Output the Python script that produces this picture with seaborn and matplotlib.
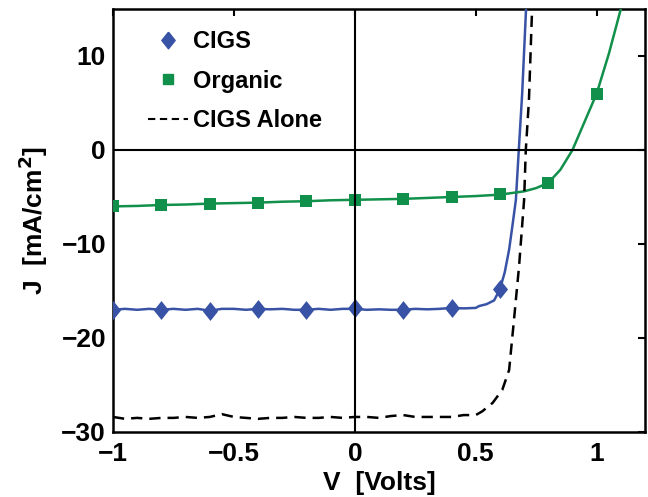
import matplotlib
matplotlib.use("Agg")
import matplotlib.pyplot as plt
from matplotlib.lines import Line2D
from matplotlib.markers import MarkerStyle
import seaborn as sns

# CIGS (tandem) curve
cigs_v = [-1.0, -0.95, -0.9, -0.85, -0.8, -0.75, -0.7, -0.65, -0.6, -0.55,
          -0.5, -0.45, -0.4, -0.35, -0.3, -0.25, -0.2, -0.15, -0.1, -0.05,
          0.0, 0.05, 0.1, 0.15, 0.2, 0.25, 0.3, 0.35, 0.4, 0.45,
          0.5, 0.514, 0.545, 0.576, 0.6, 0.62, 0.638, 0.652, 0.666, 0.678,
          0.692, 0.708]
cigs_j = [-17.0, -16.9, -17.0, -16.9, -17.0, -16.9, -17.0, -16.9, -17.1, -16.9,
          -16.9, -17.0, -16.9, -16.95, -16.9, -17.0, -17.0, -16.9, -17.0, -16.9,
          -16.9, -17.0, -16.95, -17.0, -17.0, -16.9, -16.95, -16.9, -16.8, -16.85,
          -16.8, -16.6, -16.4, -16.0, -14.8, -13.0, -10.6, -8.0, -5.3, 0.0,
          6.0, 15.0]
cigs_mv = [-1.0, -0.8, -0.6, -0.4, -0.2, 0.0, 0.2, 0.4, 0.6]
cigs_mj = [-17.0, -17.0, -17.1, -16.9, -17.0, -16.85, -17.0, -16.8, -14.8]

# Organic curve
org_v = [-1.0, -0.9, -0.8, -0.7, -0.6, -0.5, -0.4, -0.3, -0.2, -0.1,
         0.0, 0.1, 0.2, 0.3, 0.4, 0.5, 0.6, 0.7, 0.75, 0.8,
         0.85, 0.9, 0.95, 1.0, 1.05, 1.1]
org_j = [-6.0, -5.95, -5.85, -5.8, -5.7, -5.65, -5.6, -5.5, -5.45, -5.35,
         -5.3, -5.25, -5.2, -5.1, -5.0, -4.9, -4.75, -4.4, -4.05, -3.5,
         -2.1, 0.0, 3.0, 6.0, 10.2, 15.0]
org_mv = [-1.0, -0.8, -0.6, -0.4, -0.2, 0.0, 0.2, 0.4, 0.6, 0.8, 1.0]
org_mj = [-6.0, -5.85, -5.7, -5.6, -5.45, -5.3, -5.2, -5.0, -4.7, -3.5, 6.0]

# CIGS alone (dashed)
alone_v = [-1.0, -0.95, -0.9, -0.85, -0.8, -0.75, -0.7, -0.65, -0.6, -0.55,
           -0.5, -0.45, -0.4, -0.35, -0.3, -0.25, -0.2, -0.15, -0.1, -0.05,
           0.0, 0.05, 0.1, 0.15, 0.2, 0.25, 0.3, 0.35, 0.4, 0.45,
           0.5, 0.527, 0.57, 0.61, 0.638, 0.658, 0.679, 0.70, 0.707, 0.72,
           0.733]
alone_j = [-28.4, -28.6, -28.5, -28.6, -28.5, -28.5, -28.4, -28.5, -28.4, -28.1,
           -28.4, -28.5, -28.6, -28.5, -28.5, -28.4, -28.5, -28.5, -28.4, -28.5,
           -28.4, -28.4, -28.5, -28.3, -28.2, -28.4, -28.4, -28.4, -28.4, -28.2,
           -28.2, -27.8, -26.9, -25.5, -23.4, -18.1, -12.4, -5.3, 0.0, 5.3,
           15.0]

blue = "#3853a6"
green = "#10904a"
diamond = MarkerStyle([(0, 1), (0.8, 0), (0, -1), (-0.8, 0), (0, 1)])

sns.set_theme(style="white")
plt.rcParams["font.family"] = ["Liberation Sans", "DejaVu Sans"]
plt.rcParams["font.weight"] = "bold"
plt.rcParams["axes.labelweight"] = "bold"
plt.rcParams["text.color"] = "black"
plt.rcParams["axes.labelcolor"] = "black"

fig = plt.figure(figsize=(6.48, 4.97), dpi=100)
ax = fig.add_axes([0.1744, 0.1308, 0.821, 0.8511])

ax.axhline(0, color="black", lw=1.5, zorder=4)
ax.axvline(0, color="black", lw=1.5, zorder=4)

sns.lineplot(x=cigs_v, y=cigs_j, color=blue, lw=1.8, ax=ax, zorder=3)
sns.scatterplot(x=cigs_mv, y=cigs_mj, color=blue, marker=diamond, s=185,
                linewidth=0, ax=ax, zorder=3)
sns.lineplot(x=org_v, y=org_j, color=green, lw=1.8, ax=ax, zorder=3)
sns.scatterplot(x=org_mv, y=org_mj, color=green, marker="s", s=70,
                linewidth=0, ax=ax, zorder=3)
sns.lineplot(x=alone_v, y=alone_j, color="black", lw=1.8, ax=ax, zorder=3)
ax.lines[-1].set_dashes([4.5, 2.8])

ax.set_xlim(-1, 1.2)
ax.set_ylim(-30, 15)
ax.set_xticks([-1, -0.5, 0, 0.5, 1])
ax.set_xticklabels(["\u22121", "\u22120.5", "0", "0.5", "1"])
ax.set_yticks([-30, -20, -10, 0, 10])
ax.set_yticklabels(["\u221230", "\u221220", "\u221210", "0", "10"])
ax.tick_params(direction="in", length=5, width=1.5, top=True, right=True,
               labelsize=19, colors="black")
ax.tick_params(axis="x", pad=7)
ax.tick_params(axis="y", pad=5)
for s in ax.spines.values():
    s.set_linewidth(1.8)
    s.set_color("black")

ax.set_xlabel("V  [Volts]", fontsize=19, labelpad=4)
ax.set_ylabel("J  [mA/cm$^\\mathbf{2}$]", fontsize=19, labelpad=8)

handles = [
    Line2D([], [], color=blue, marker=diamond, markersize=12, linestyle=""),
    Line2D([], [], color=green, marker="s", markersize=7, linestyle=""),
    Line2D([], [], color="black", lw=1.5, dashes=[3.5, 2.2]),
]
ax.legend(handles, ["CIGS", "Organic", "CIGS Alone"], loc="upper left",
          bbox_to_anchor=(0.066, 0.95), frameon=False, fontsize=17,
          borderpad=0, borderaxespad=0, handlelength=1.7, handletextpad=0.2,
          labelspacing=0.7)

fig.savefig("out.png", dpi=100)
